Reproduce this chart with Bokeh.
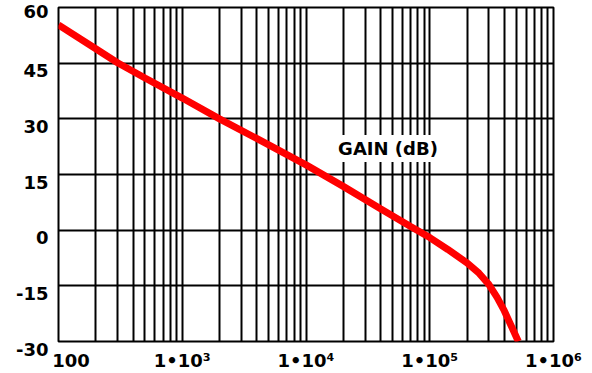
from bokeh.plotting import figure
from bokeh.models import FixedTicker, Range1d, Label
from bokeh.embed import file_html
from bokeh.resources import INLINE

# data
freq = [100, 200, 300, 500, 1000, 2000, 5000, 10000, 20000, 40000,
        70000, 100000, 140000, 200000, 250000, 300000, 350000, 400000, 450000, 520000]
gain = [55.3, 48.9, 45.1, 41.0, 35.6, 30.0, 23.0, 17.6, 11.8, 5.8,
        1.0, -2.0, -5.2, -8.8, -11.6, -14.6, -18.1, -21.7, -25.4, -30.0]

x_major = [100, 1000, 10000, 100000, 1000000]
x_labels = ["\u2007\u2007100", "1\u202210\u00b3", "1\u202210\u2074", "1\u202210\u2075", "1\u202210\u2076"]
x_grid = [m * 10 ** e for e in range(2, 6) for m in range(1, 10)] + [1000000]
y_ticks = [-30, -15, 0, 15, 30, 45, 60]
y_labels = ["-30", "-15", "0", "15", "30", "45", "60"]

FONT = "DejaVu Sans"

p = figure(width=592, height=373, x_axis_type="log",
           x_range=Range1d(100, 1000000), y_range=Range1d(-30, 60),
           output_backend="svg", toolbar_location=None,
           min_border_left=58, min_border_right=39, min_border_top=7, min_border_bottom=30)

p.outline_line_color = "black"
p.outline_line_width = 2
p.background_fill_color = "white"
p.border_fill_color = "white"

p.xaxis.ticker = FixedTicker(ticks=x_major)
p.xaxis.major_label_overrides = {t: l for t, l in zip(x_major, x_labels)}
p.yaxis.ticker = FixedTicker(ticks=y_ticks)
# leading empty line pushes each y label slightly below its grid line
# (the top one already sits just below the top edge)
p.yaxis.major_label_overrides = {t: (l if t == max(y_ticks) else "\n" + l)
                                 for t, l in zip(y_ticks, y_labels)}

for ax in (p.xaxis[0], p.yaxis[0]):
    ax.axis_line_color = None
    ax.major_tick_line_color = None
    ax.minor_tick_line_color = None
    ax.major_tick_out = 0
    ax.major_tick_in = 0
    ax.major_label_text_font = FONT
    ax.major_label_text_font_style = "bold"
    ax.major_label_text_font_size = "18px"
    ax.major_label_text_color = "black"
p.yaxis.major_label_text_line_height = 0.72
p.yaxis.major_label_standoff = 10
p.xaxis.major_label_standoff = 8

p.xgrid.ticker = FixedTicker(ticks=x_grid)
p.ygrid.ticker = FixedTicker(ticks=y_ticks)
for g in (p.xgrid[0], p.ygrid[0]):
    g.grid_line_color = "black"
    g.grid_line_width = 2
    g.grid_line_alpha = 1.0

p.line(freq, gain, line_color="#ff0000", line_width=7)

lab = Label(x=46000, y=22, text="GAIN (dB)", text_align="center", text_baseline="middle",
            text_font=FONT, text_font_style="bold", text_font_size="18px", text_color="black",
            background_fill_color="white", padding=3)
p.add_layout(lab)

open("out.html", "w").write(file_html(p, INLINE))
